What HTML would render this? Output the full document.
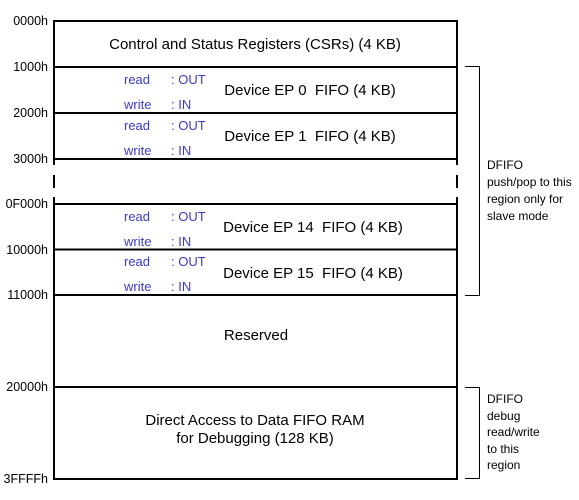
<!DOCTYPE html>
<html><head><style>
body{margin:0;background:#fff}
svg{display:block}
text{font-family:"Liberation Sans",Arial,sans-serif}
.a{font-size:12.5px;fill:#000;text-anchor:end}
.m{font-size:15px;fill:#000;text-anchor:middle}
.b{font-size:13px;fill:#3a3ad0}
.n{font-size:12px;fill:#000}
</style></head><body>
<svg width="579" height="500" viewBox="0 0 579 500" xmlns="http://www.w3.org/2000/svg">
<g stroke="#000" stroke-width="2" fill="none">
<line x1="54" y1="20" x2="54" y2="165"/>
<line x1="54" y1="175" x2="54" y2="188"/>
<line x1="54" y1="197" x2="54" y2="480"/>
<line x1="457" y1="20" x2="457" y2="165"/>
<line x1="457" y1="175" x2="457" y2="188"/>
<line x1="457" y1="197" x2="457" y2="480"/>
<line x1="54" y1="21" x2="457" y2="21"/>
<line x1="54" y1="67" x2="457" y2="67"/>
<line x1="54" y1="113" x2="457" y2="113"/>
<line x1="54" y1="159" x2="457" y2="159"/>
<line x1="54" y1="204" x2="457" y2="204"/>
<line x1="54" y1="249.5" x2="457" y2="249.5"/>
<line x1="54" y1="295" x2="457" y2="295"/>
<line x1="54" y1="387" x2="457" y2="387"/>
<line x1="54" y1="479" x2="457" y2="479"/>
</g>
<g stroke="#000" stroke-width="1" fill="none">
<polyline points="465,66.5 479.5,66.5 479.5,295.5 465,295.5"/>
<polyline points="465,387.5 479.5,387.5 479.5,478.5 465,478.5"/>
</g>
<text class="a" x="48" y="25">0000h</text>
<text class="a" x="48" y="71">1000h</text>
<text class="a" x="48" y="117">2000h</text>
<text class="a" x="48" y="163">3000h</text>
<text class="a" x="48" y="208">0F000h</text>
<text class="a" x="48" y="254">10000h</text>
<text class="a" x="48" y="299">11000h</text>
<text class="a" x="48" y="391">20000h</text>
<text class="a" x="48" y="483">3FFFFh</text>
<text class="m" x="255" y="49">Control and Status Registers (CSRs) (4 KB)</text>
<text class="m" x="310" y="95">Device EP 0&#160; FIFO (4 KB)</text>
<text class="m" x="310" y="141">Device EP 1&#160; FIFO (4 KB)</text>
<text class="m" x="313" y="232">Device EP 14&#160; FIFO (4 KB)</text>
<text class="m" x="313" y="278">Device EP 15&#160; FIFO (4 KB)</text>
<text class="m" x="256" y="340">Reserved</text>
<text class="m" x="255" y="425">Direct Access to Data FIFO RAM</text>
<text class="m" x="255" y="443">for Debugging (128 KB)</text>
<g class="b">
<text x="124" y="84">read</text><text x="171" y="84">: OUT</text>
<text x="124" y="109">write</text><text x="171" y="109">: IN</text>
<text x="124" y="130">read</text><text x="171" y="130">: OUT</text>
<text x="124" y="155">write</text><text x="171" y="155">: IN</text>
<text x="124" y="221">read</text><text x="171" y="221">: OUT</text>
<text x="124" y="246">write</text><text x="171" y="246">: IN</text>
<text x="124" y="266">read</text><text x="171" y="266">: OUT</text>
<text x="124" y="291">write</text><text x="171" y="291">: IN</text>
</g>
<g class="n">
<text x="487" y="169">DFIFO</text>
<text x="487" y="186">push/pop to this</text>
<text x="487" y="203">region only for</text>
<text x="487" y="220">slave mode</text>
<text x="487" y="403">DFIFO</text>
<text x="487" y="420">debug</text>
<text x="487" y="436">read/write</text>
<text x="487" y="453">to this</text>
<text x="487" y="469">region</text>
</g>
</svg>
</body></html>
